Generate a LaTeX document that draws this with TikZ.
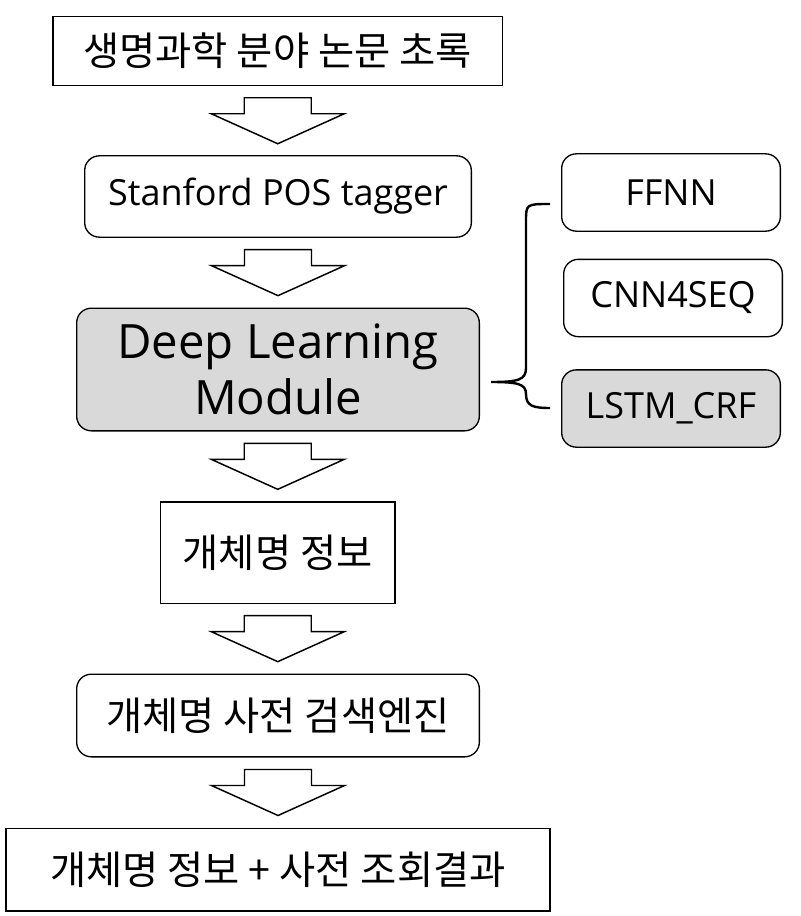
\documentclass[tikz,border=0pt]{standalone}
\usepackage{fontspec}
\setmainfont{Noto Sans CJK KR}
\newfontfamily\latinfont{Open Sans}
\usepackage{tikz}
\usetikzlibrary{positioning,calc}

% hollow block arrow between two stacked boxes
\newcommand{\flowarrow}[2]{%
  \path ($(#1.south)!0.5!(#2.north)$) coordinate (m);
  \draw[line width=1.1pt, line join=miter] ($(m)+(-33.5,23)$) -- ++(67,0) -- ++(0,-16) -- ++(33,0)
    -- ($(m)+(0,-23)$) -- ($(m)+(-66.5,7)$) -- ++(33,0) -- cycle;}

\begin{document}
\begin{tikzpicture}[x=0.75pt, y=0.75pt,
    box/.style={draw, line width=1pt, inner sep=0pt, align=center},
    rbox/.style={box, rounded corners=11pt},
    shaded/.style={fill=black!15},
    kor/.style={font=\fontsize{29.5}{34}\selectfont},
    lat/.style={font=\latinfont\fontsize{#1}{42.5}\selectfont}]
    \useasboundingbox (0,0) rectangle (800,-916);

    % main flow
    \node[box, kor, minimum width=337pt, minimum height=52pt] (src) at (277.5,-51) {생명과학 분야 논문 초록};
    \node[rbox, lat=27, minimum width=290pt, minimum height=61pt] (pos) at (278,-196.5) {Stanford POS tagger};
    \node[rbox, shaded, lat=35.5, minimum width=302pt, minimum height=92pt] (dlm) at (278,-369.5) {Deep Learning\\Module};
    \node[box, kor, minimum width=176pt, minimum height=76pt] (ner) at (277.5,-552.5) {개체명 정보};
    \node[rbox, kor, minimum width=302pt, minimum height=62pt] (dict) at (278,-715.5) {개체명 사전 검색엔진};
    \node[box, kor, minimum width=408pt, minimum height=62pt] (out) at (278,-869.5) {개체명 정보 + 사전 조회결과};

    % models
    \node[rbox, lat=27, minimum width=164pt, minimum height=58pt] (ffnn) at (671,-192.5) {FFNN};
    \node[rbox, lat=27, minimum width=164pt, minimum height=58pt] (cnn) at (673,-298) {CNN4SEQ};
    \node[rbox, shaded, lat=27, minimum width=164pt, minimum height=58pt] (lstm) at (671,-408.5) {LSTM\_CRF};

    % arrows
    \flowarrow{src}{pos}
    \flowarrow{pos}{dlm}
    \flowarrow{dlm}{ner}
    \flowarrow{ner}{dict}
    \flowarrow{dict}{out}

    % brace
    \coordinate (btop) at ($(ffnn.west)+(-11,-11.5)$);
    \coordinate (bbot) at ($(lstm.west)+(-11,0.5)$);
    \coordinate (btip) at ($(dlm.east)+(11,-12.5)$);
    \draw[line width=1.8pt] (btop) .. controls ++(-24,0) and (526,-204) .. (526,-222) -- (526,-368)
        .. controls (526,-380) and (518,-382) .. (btip)
        .. controls (518,-382) and (526,-384) .. (526,-394)
        .. controls (526,-406) and (533,-408) .. (bbot);
\end{tikzpicture}
\end{document}
